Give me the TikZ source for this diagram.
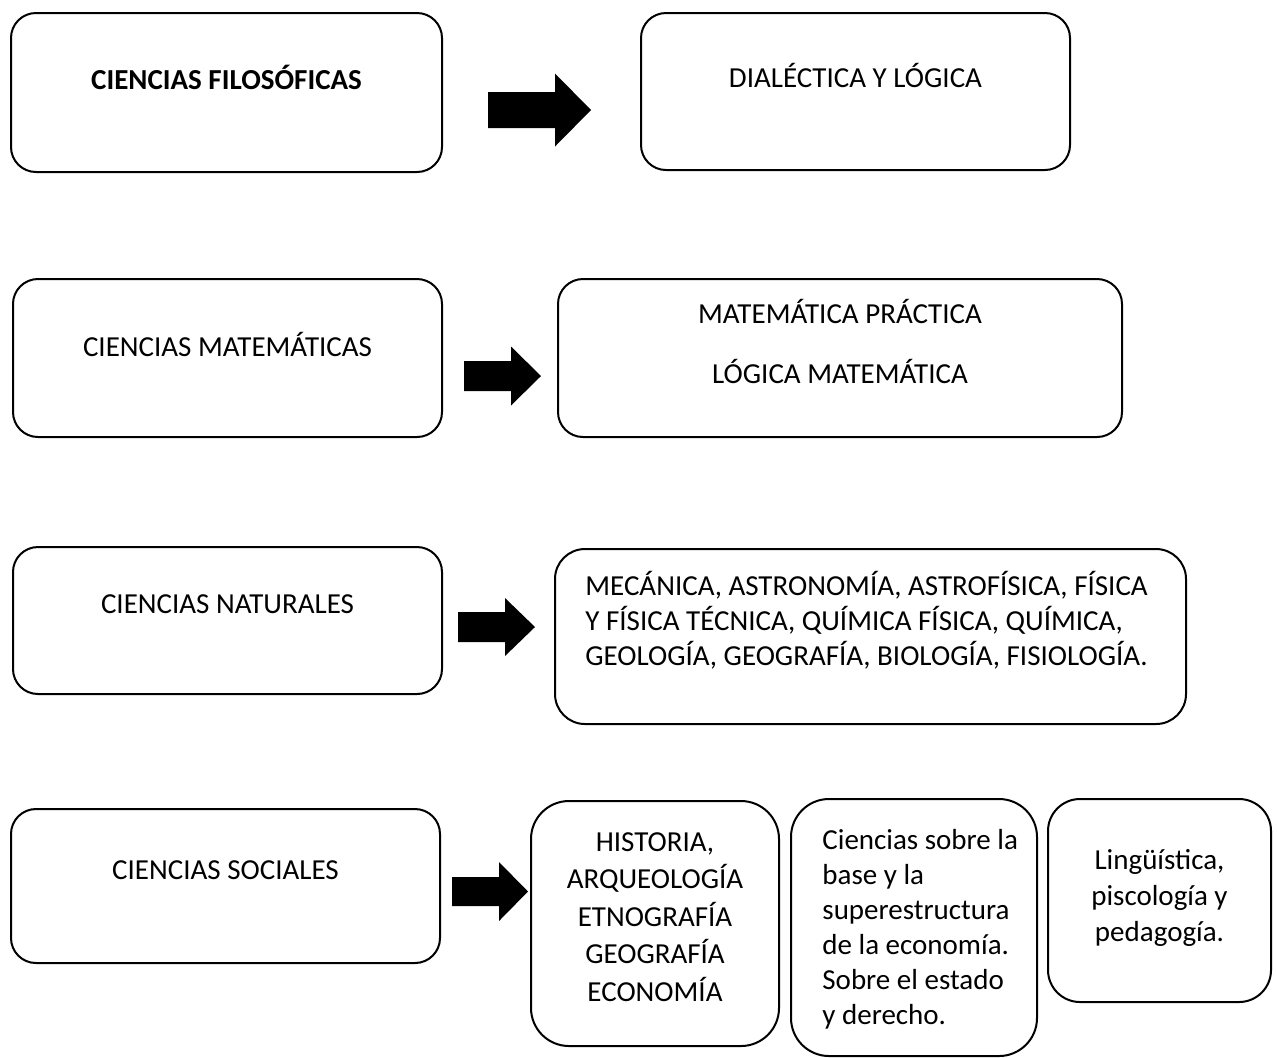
\documentclass[tikz,border=0pt]{standalone}
\usepackage{fontspec}
\setmainfont{Carlito}
\usepackage{tikz}
\usetikzlibrary{calc}

\tikzset{
  box/.style={draw,line width=1pt,rounded corners=12.5pt,inner sep=0pt,anchor=north west},
  tallbox/.style={box,rounded corners=19pt},
  txt/.style={inner sep=0pt,anchor=base,font=\fontsize{14.5}{18.5}\selectfont},
}
% block arrow: tail x, mid y, neck x, tip x, shaft half, head half
\newcommand{\fatarrow}[6]{%
  \fill (#1,{#2-#5}) -- (#3,{#2-#5}) -- (#3,{#2-#6}) -- (#4,#2) -- (#3,{#2+#6}) -- (#3,{#2+#5}) -- (#1,{#2+#5}) -- cycle;}

\begin{document}
\begin{tikzpicture}[x=0.5pt,y=-0.5pt]
\useasboundingbox (0,0) rectangle (1277,1057);
% --- row 1 ---
\node[box,minimum width=215.5pt,minimum height=79.5pt] (filo) at (10,12) {};
\node[txt,font=\fontsize{14.5}{18.5}\selectfont\bfseries] (filo-t) at ($(filo.north)+(0,77)$) {CIENCIAS FILOSÓFICAS};
\node[box,minimum width=214.5pt,minimum height=78.5pt] (dial) at (640,12) {};
\node[txt] (dial-t) at ($(dial.north)+(0,75)$) {DIALÉCTICA Y LÓGICA};
\fatarrow{488}{110}{555}{591}{18}{36.5}
% --- row 2 ---
\node[box,minimum width=214.5pt,minimum height=79pt] (mate) at (12,278) {};
\node[txt] (mate-t) at ($(mate.north)+(0,78)$) {CIENCIAS MATEMÁTICAS};
\node[box,minimum width=282pt,minimum height=79pt] (matp) at (557,278) {};
% multi-line nodes: base sits on the last line
\node[txt,align=center,font=\fontsize{14.5}{30}\selectfont] (matp-t) at ($(matp.north)+(0,105)$) {MATEMÁTICA PRÁCTICA\\LÓGICA MATEMÁTICA};
\fatarrow{464}{376}{511}{541}{15}{29.5}
% --- row 3 ---
\node[box,minimum width=214.5pt,minimum height=73.5pt] (natu) at (12,546) {};
\node[txt] (natu-t) at ($(natu.north)+(0,67)$) {CIENCIAS NATURALES};
\node[box,rounded corners=15pt,minimum width=315.5pt,minimum height=87.5pt] (natl) at (554,548) {};
\node[txt,anchor=base west,align=left,font=\fontsize{14.5}{17.5}\selectfont] (natl-t) at ($(natl.north west)+(31,117)$) {MECÁNICA, ASTRONOMÍA, ASTROFÍSICA, FÍSICA\\Y FÍSICA TÉCNICA, QUÍMICA FÍSICA, QUÍMICA,\\GEOLOGÍA, GEOGRAFÍA, BIOLOGÍA, FISIOLOGÍA.};
\fatarrow{458}{627}{505}{535}{15}{29}
% --- row 4 ---
\node[box,minimum width=214.5pt,minimum height=77pt] (soci) at (10,808) {};
\node[txt] (soci-t) at ($(soci.north)+(0,71)$) {CIENCIAS SOCIALES};
\node[tallbox,minimum width=124pt,minimum height=122.5pt] (hist) at (530,800) {};
\node[txt,align=center,font=\fontsize{14.5}{18.75}\selectfont] (hist-t) at ($(hist.north)+(0,201)$) {HISTORIA,\\ARQUEOLOGÍA\\ETNOGRAFÍA\\GEOGRAFÍA\\ECONOMÍA};
\node[tallbox,minimum width=123pt,minimum height=128.5pt] (base) at (790,798) {};
\node[txt,anchor=base west,align=left,font=\fontsize{14.5}{17.5}\selectfont] (base-t) at ($(base.north west)+(32,226)$) {Ciencias sobre la\\base y la\\superestructura\\de la economía.\\Sobre el estado\\y derecho.};
\node[tallbox,rounded corners=16pt,minimum width=111.5pt,minimum height=101.5pt] (ling) at (1047,798) {};
\node[txt,align=center,font=\fontsize{14.5}{18}\selectfont] (ling-t) at ($(ling.north)+(0,143)$) {Lingüística,\\piscología y\\pedagogía.};
\fatarrow{452}{891.5}{499}{528}{14.5}{29.5}
\end{tikzpicture}
\end{document}
